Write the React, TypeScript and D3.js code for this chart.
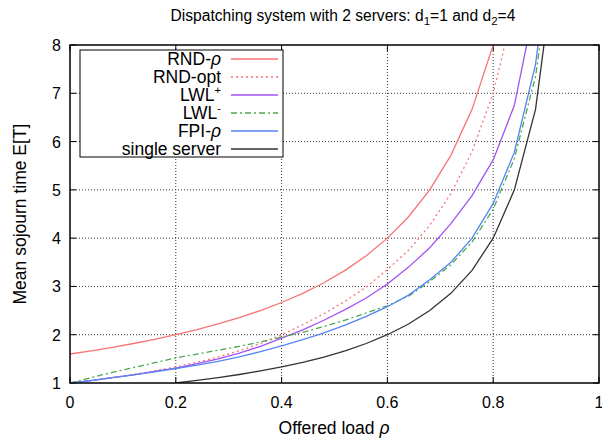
import React from "react";
import * as d3 from "d3";

const RHO: number[] = [0, 0.04, 0.08, 0.12, 0.16, 0.2, 0.24, 0.28, 0.32, 0.36, 0.4, 0.44, 0.48, 0.52, 0.56, 0.6, 0.64, 0.68, 0.72, 0.76, 0.8, 0.84, 0.88, 0.92];

const RND_RHO: (number | null)[] = [1.6, 1.667, 1.739, 1.818, 1.905, 2.0, 2.105, 2.222, 2.353, 2.5, 2.667, 2.857, 3.077, 3.333, 3.636, 4.0, 4.444, 5.0, 5.714, 6.667, 8.0, 10.0, null, null];
const RND_OPT: (number | null)[] = [1.0, 1.053, 1.111, 1.176, 1.25, 1.333, 1.429, 1.538, 1.667, 1.818, 2.0, 2.208, 2.436, 2.692, 2.987, 3.35, 3.75, 4.265, 4.921, 5.79, 7.0, 8.81, null, null];
const LWL_PLUS: (number | null)[] = [1.0, 1.05, 1.11, 1.17, 1.24, 1.31, 1.4, 1.5, 1.62, 1.76, 1.93, 2.1, 2.3, 2.52, 2.76, 3.05, 3.4, 3.8, 4.3, 4.88, 5.62, 6.75, 8.9, null];
const LWL_MINUS: (number | null)[] = [1.0, 1.11, 1.22, 1.32, 1.42, 1.52, 1.6, 1.68, 1.76, 1.85, 1.95, 2.05, 2.17, 2.3, 2.45, 2.6, 2.8, 3.1, 3.45, 3.92, 4.6, 5.65, 7.35, 10.5];
const FPI_RHO: (number | null)[] = [1.0, 1.05, 1.11, 1.17, 1.23, 1.3, 1.37, 1.45, 1.54, 1.65, 1.77, 1.9, 2.04, 2.2, 2.38, 2.58, 2.82, 3.14, 3.5, 4.0, 4.72, 5.78, 7.6, 11];
const SINGLE: (number | null)[] = [null, null, null, null, null, 1.0, 1.053, 1.111, 1.176, 1.25, 1.333, 1.429, 1.538, 1.667, 1.818, 2.0, 2.222, 2.5, 2.857, 3.333, 4.0, 5.0, 6.667, 10.0];

const X_TICKS: number[] = [0, 0.2, 0.4, 0.6, 0.8, 1];
const Y_TICKS: number[] = [1, 2, 3, 4, 5, 6, 7, 8];

const SERIES = [
  { key: "rnd", values: RND_RHO, color: "#f87373", dash: "", label: ["RND-", "ρ"] },
  { key: "opt", values: RND_OPT, color: "#f87373", dash: "2,3", label: ["RND-opt"] },
  { key: "lwlp", values: LWL_PLUS, color: "#a352f2", dash: "", label: ["LWL", "+"] },
  { key: "lwlm", values: LWL_MINUS, color: "#4ea84e", dash: "6,3,2,3", label: ["LWL", "-"] },
  { key: "fpi", values: FPI_RHO, color: "#5585f5", dash: "", label: ["FPI-", "ρ"] },
  { key: "single", values: SINGLE, color: "#333333", dash: "", label: ["single server"] },
];

const FONT = "'Liberation Sans', Arial, Helvetica, sans-serif";

export default function App() {
  const L = 70, R = 599, T = 45, B = 383;
  const x = d3.scaleLinear().domain([0, 1]).range([L, R]);
  const y = d3.scaleLinear().domain([1, 8]).range([B, T]);

  const line = d3
    .line<[number, number | null]>()
    .defined((d) => d[1] !== null)
    .x((d) => x(d[0]))
    .y((d) => y(d[1] as number));

  const lgX0 = 80, lgY0 = 50, lgX1 = 283, lgY1 = 157;
  const rowY = (i: number) => 59 + i * 18;

  const renderLabel = (s: typeof SERIES[number]) => {
    if (s.key === "rnd" || s.key === "fpi") {
      return (
        <>
          {s.label[0]}
          <tspan fontStyle="italic">{s.label[1]}</tspan>
        </>
      );
    }
    if (s.key === "lwlp" || s.key === "lwlm") {
      return (
        <>
          {s.label[0]}
          <tspan dy={-7} fontSize={11}>{s.label[1]}</tspan>
        </>
      );
    }
    return s.label[0];
  };

  return (
    <svg width={602} height={440} style={{ position: "absolute", left: 0, top: 0, background: "#fff" }} fontFamily={FONT}>
      <defs>
        <clipPath id="plotClip">
          <rect x={L} y={T} width={R - L} height={B - T} />
        </clipPath>
      </defs>
      <rect x={0} y={0} width={602} height={440} fill="#fff" />
      {/* grid */}
      {X_TICKS.filter((v) => v > 0 && v < 1).map((v) => (
        <line key={"gx" + v} x1={x(v)} x2={x(v)} y1={T} y2={B} stroke="#333" strokeWidth={1} strokeDasharray="1,2" />
      ))}
      {Y_TICKS.filter((v) => v > 1 && v < 8).map((v) => (
        <line key={"gy" + v} x1={L} x2={R} y1={y(v)} y2={y(v)} stroke="#333" strokeWidth={1} strokeDasharray="1,2" />
      ))}
      {/* ticks */}
      {X_TICKS.map((v) => (
        <g key={"tx" + v}>
          <line x1={x(v)} x2={x(v)} y1={B} y2={B - 6} stroke="#000" />
          <line x1={x(v)} x2={x(v)} y1={T} y2={T + 6} stroke="#000" />
          <text x={x(v)} y={408} textAnchor="middle" fontSize={16} fill="#000">{v === 0 || v === 1 ? String(v) : v.toFixed(1)}</text>
        </g>
      ))}
      {Y_TICKS.map((v) => (
        <g key={"ty" + v}>
          <line x1={L} x2={L + 6} y1={y(v)} y2={y(v)} stroke="#000" />
          <line x1={R} x2={R - 6} y1={y(v)} y2={y(v)} stroke="#000" />
          <text x={61} y={y(v) + 6} textAnchor="end" fontSize={16} fill="#000">{v}</text>
        </g>
      ))}
      {/* curves */}
      <g clipPath="url(#plotClip)">
        {SERIES.map((s) => (
          <path
            key={s.key}
            d={line(RHO.map((r, i) => [r, s.values[i]] as [number, number | null])) || ""}
            fill="none"
            stroke={s.color}
            strokeWidth={1.3}
            strokeDasharray={s.dash || undefined}
          />
        ))}
      </g>
      {/* frame */}
      <rect x={L} y={T} width={R - L} height={B - T} fill="none" stroke="#000" strokeWidth={1.5} />
      {/* legend */}
      <rect x={lgX0} y={lgY0} width={lgX1 - lgX0} height={lgY1 - lgY0} fill="#fff" stroke="#000" strokeWidth={1} />
      {SERIES.map((s, i) => (
        <g key={"lg" + s.key}>
          <text x={221} y={rowY(i) + 6} textAnchor="end" fontSize={17.5} fill="#000">{renderLabel(s)}</text>
          <line x1={231} x2={278} y1={rowY(i)} y2={rowY(i)} stroke={s.color} strokeWidth={1.3} strokeDasharray={s.dash || undefined} />
        </g>
      ))}
      {/* title */}
      <text x={343} y={21} textAnchor="middle" fontSize={15.6} fill="#000">
        Dispatching system with 2 servers: d<tspan dy={4} fontSize={11.5}>1</tspan>
        <tspan dy={-4}>=1 and d</tspan>
        <tspan dy={4} fontSize={11.5}>2</tspan>
        <tspan dy={-4}>=4</tspan>
      </text>
      {/* axis titles */}
      <text x={334} y={434} textAnchor="middle" fontSize={17.5} fill="#000">
        Offered load <tspan fontStyle="italic">ρ</tspan>
      </text>
      <text transform={`translate(26,214) rotate(-90)`} textAnchor="middle" fontSize={17.5} fill="#000">
        Mean sojourn time E[T]
      </text>
    </svg>
  );
}
